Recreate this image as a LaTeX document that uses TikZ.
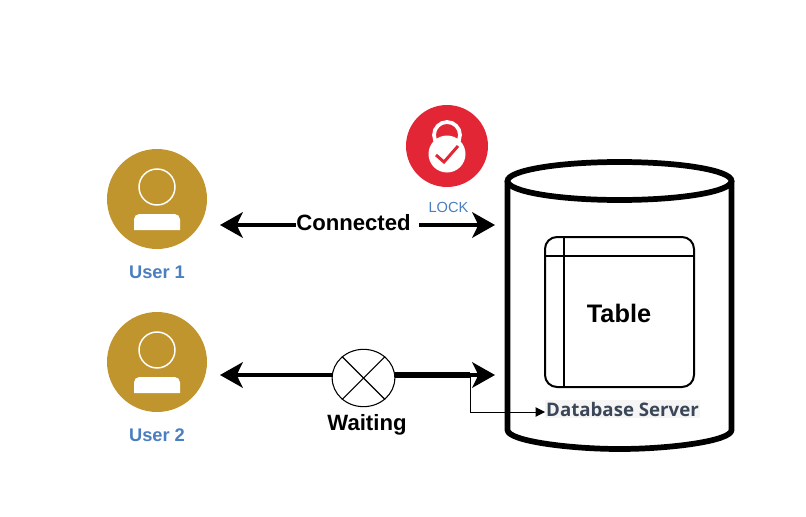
\documentclass[tikz,border=0pt]{standalone}
\usepackage{fontspec}
\setmainfont{Liberation Sans}
\newfontfamily\dbfont{Open Sans}
\usetikzlibrary{arrows.meta,positioning,shapes.geometric}
\definecolor{usergold}{HTML}{C1952E}
\definecolor{lockred}{HTML}{E32636}
\definecolor{userblue}{HTML}{4A7EBF}
\definecolor{dbtext}{HTML}{3B4658}
\definecolor{dbback}{HTML}{F5F5F5}
\tikzset{
  usercircle/.style={circle,fill=usergold,minimum size=75pt,inner sep=0pt},
  userhead/.style={circle,draw=white,line width=1.1pt,fill=usergold,minimum size=27pt,inner sep=0pt},
  username/.style={text=userblue,font=\bfseries\fontsize{13.7}{15}\selectfont},
  bigarrow/.style={line width=3pt,{Triangle[length=17pt,width=19pt,inset=4.5pt]}-{Triangle[length=17pt,width=19pt,inset=4.5pt]}},
  bigtext/.style={font=\bfseries\fontsize{16.6}{19}\selectfont},
}
\begin{document}
\begin{tikzpicture}[x=0.75pt,y=-0.75pt]
  \useasboundingbox (0,0) rectangle (806,517);
  % users
  \node[usercircle] (user1) at (157,199) {};
  \node[usercircle] (user2) at (157,362) {};
  \node[userhead] (head1) at (157,187) {};
  \node[userhead] (head2) at (157,350) {};
  \fill[white] (134,230) [rounded corners=4pt] -- (134,214) -- (180,214) [sharp corners] -- (180,230) -- cycle;
  \fill[white] (134,393) [rounded corners=4pt] -- (134,377) -- (180,377) [sharp corners] -- (180,393) -- cycle;
  \node[username] (name1) at (157,272) {User 1};
  \node[username] (name2) at (157,435) {User 2};
  % lock
  \node[circle,fill=lockred,minimum size=61.5pt,inner sep=0pt] (lock) at (447,146) {};
  \draw[white,line width=2.8pt] (447,135) circle (13);
  \fill[white] (447,154) circle (18.5);
  \draw[lockred,line width=2.2pt] (436,155) -- (444,162) -- (458,146);
  \node[text=userblue,font=\fontsize{11}{13}\selectfont] (locktext) at (448.5,207) {LOCK};
  % database
  \draw[line width=4.3pt,fill=white,line join=round] (507.5,181) -- (507.5,430)
    .. controls (507.5,441) and (570,449) .. (619.5,449)
    .. controls (670,449) and (731.5,441) .. (731.5,430) -- (731.5,181);
  \draw[line width=4.3pt] (619.5,181) ellipse (112 and 19);
  \draw[line width=1.5pt,rounded corners=9pt] (545,237) rectangle (694,387);
  \draw[line width=1.5pt] (563.5,237) -- (563.5,387);
  \draw[line width=1.5pt] (545,256) -- (694,256);
  \node[font=\bfseries\fontsize{19}{21}\selectfont] (table) at (619,313) {Table};
  \node[fill=dbback,text=dbtext,font=\dbfont\bfseries\fontsize{14}{16}\selectfont,inner sep=1pt] (dbname) at (622.5,409) {Database Server};
  % connectors
  \coordinate (end1) at (495,225);
  \coordinate (start1) at (220,225);
  \coordinate (end2) at (495,375);
  \coordinate (start2) at (220,375);
  \draw[bigarrow] (start1) -- (end1);
  \node[fill=white,bigtext,inner sep=1pt,minimum width=92pt] (connected) at (357.5,223) {\hspace*{-6pt}Connected};
  \draw[bigarrow] (start2) -- (end2);
  \coordinate (branch) at (470,375);
  \coordinate (dbentry) at (545,412);
  \node[ellipse,draw,fill=white,line width=0.8pt,minimum width=47pt,minimum height=43pt,inner sep=0pt] (wait) at (363.5,378) {};
  \draw[line width=0.8pt] (wait.45) -- (wait.225);
  \draw[line width=0.8pt] (wait.135) -- (wait.315);
  \draw[line width=3.8pt] (wait.east |- branch) -- (branch);
  \node[bigtext] (waiting) at (367,424.5) {Waiting};
  \draw[line width=0.75pt,-{Triangle[length=7pt,width=7pt]}] (branch) |- (dbentry);
\end{tikzpicture}
\end{document}
